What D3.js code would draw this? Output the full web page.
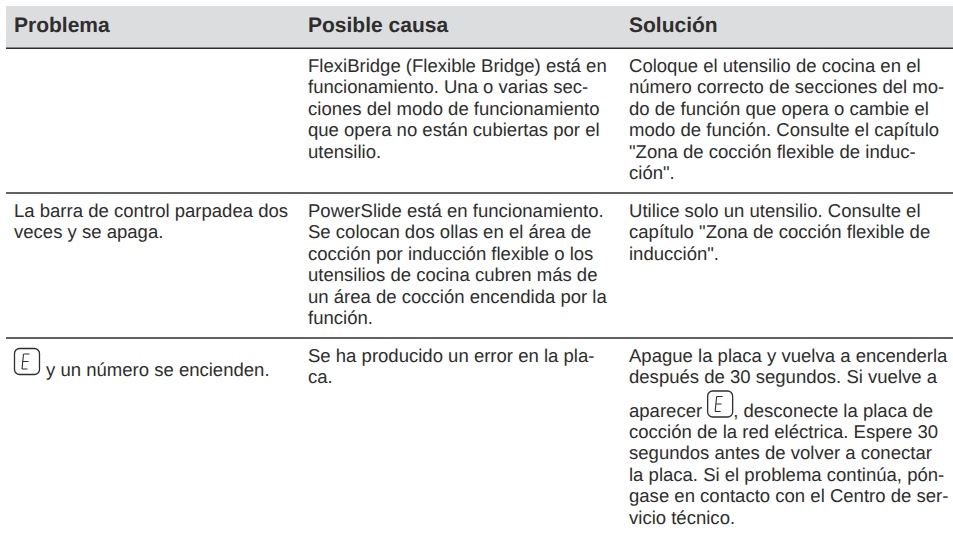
<!DOCTYPE html>
<html>
<head>
<meta charset="utf-8">
<script src="https://cdnjs.cloudflare.com/ajax/libs/d3/7.8.5/d3.min.js"></script>
<style>
  html, body { margin: 0; padding: 0; background: #fff; }
  svg { display: block; }
  text { font-family: "Liberation Sans", Arial, sans-serif; text-rendering: geometricPrecision; }
</style>
</head>
<body>
<svg id="tabla" width="953" height="533"></svg>
<script>
const headers = ["Problema", "Posible causa", "Solución"];

// "[E]" marks where the display symbol sits inside a line
const problemLines = [
  [],
  ["La barra de control parpadea dos", "veces y se apaga."],
  ["[E] y un número se encienden."],
];
const causeLines = [
  [
    "FlexiBridge (Flexible Bridge) está en",
    "funcionamiento. Una o varias sec-",
    "ciones del modo de funcionamiento",
    "que opera no están cubiertas por el",
    "utensilio.",
  ],
  [
    "PowerSlide está en funcionamiento.",
    "Se colocan dos ollas en el área de",
    "cocción por inducción flexible o los",
    "utensilios de cocina cubren más de",
    "un área de cocción encendida por la",
    "función.",
  ],
  ["Se ha producido un error en la pla-", "ca."],
];
const solutionLines = [
  [
    "Coloque el utensilio de cocina en el",
    "número correcto de secciones del mo-",
    "do de función que opera o cambie el",
    "modo de función. Consulte el capítulo",
    "\"Zona de cocción flexible de induc-",
    "ción\".",
  ],
  [
    "Utilice solo un utensilio. Consulte el",
    "capítulo \"Zona de cocción flexible de",
    "inducción\".",
  ],
  [
    "Apague la placa y vuelva a encenderla",
    "después de 30 segundos. Si vuelve a",
    "aparecer [E], desconecte la placa de",
    "cocción de la red eléctrica. Espere 30",
    "segundos antes de volver a conectar",
    "la placa. Si el problema continúa, pón-",
    "gase en contacto con el Centro de ser-",
    "vicio técnico.",
  ],
];

const columnX = [14, 308, 629];
const rowBaselines = [72, 217, 362];
const rowRules = [193, 338];
const lineHeight = 21.45;
const symbolLineExtra = 11.6;
const bodySize = 18.55;
const textColor = "#2e2e2e";
const ruleColor = "#2e2e2e";

const svg = d3.select("#tabla");

svg.append("rect")
  .attr("x", 6).attr("y", 6)
  .attr("width", 947).attr("height", 42)
  .attr("fill", "#dcddde");

svg.selectAll(".regla")
  .data([48.3, ...rowRules])
  .enter()
  .append("line")
  .attr("class", "regla")
  .attr("x1", 6)
  .attr("x2", 953)
  .attr("y1", (d) => d)
  .attr("y2", (d) => d)
  .attr("stroke", ruleColor)
  .attr("stroke-width", 1.6);

svg.selectAll(".cabecera")
  .data(headers)
  .enter()
  .append("text")
  .attr("class", "cabecera")
  .attr("x", (d, i) => columnX[i])
  .attr("y", 32)
  .attr("font-size", 21)
  .attr("font-weight", "bold")
  .attr("fill", textColor)
  .text((d) => d);

// symbol box is 26x27, its bottom sits just above the text baseline
const drawSymbol = (x, baseline) => {
  const g = svg.append("g").attr("transform", `translate(${x},${baseline - 27})`);
  g.append("rect")
    .attr("x", 0.5).attr("y", 0.5)
    .attr("width", 25).attr("height", 26).attr("rx", 5)
    .attr("fill", "none")
    .attr("stroke", textColor)
    .attr("stroke-width", 1.3);
  g.append("path")
    .attr("d", "M9.5 6 L15.5 6 M9 13.5 L14.5 13.5 M8 21 L13.5 21 M9.5 6 L8 21")
    .attr("fill", "none")
    .attr("stroke", textColor)
    .attr("stroke-width", 1.1);
};

const drawText = (x, y, str) =>
  svg.append("text")
    .attr("x", x)
    .attr("y", y)
    .attr("font-size", bodySize)
    .attr("fill", textColor)
    .text(str);

const drawCell = (lines, x, baseline) => {
  let y = baseline;
  lines.forEach((line, i) => {
    if (i > 0) y += lineHeight;
    if (!line.includes("[E]")) {
      drawText(x, y, line);
      return;
    }
    const [before, after] = line.split("[E]");
    if (before) {
      // symbol in running text pushes the line down
      y += symbolLineExtra;
      const w = drawText(x, y, before.trimEnd()).node().getComputedTextLength();
      drawSymbol(x + w + 5, y + 1);
      drawText(x + w + 31, y, after);
    } else {
      // symbol opens the cell, text hangs at its foot
      y += 14;
      drawSymbol(x, y - 1);
      drawText(x + 32, y, after.trimStart());
    }
  });
};

[problemLines, causeLines, solutionLines].forEach((column, c) => {
  column.forEach((lines, r) => drawCell(lines, columnX[c], rowBaselines[r]));
});
</script>
</body>
</html>
